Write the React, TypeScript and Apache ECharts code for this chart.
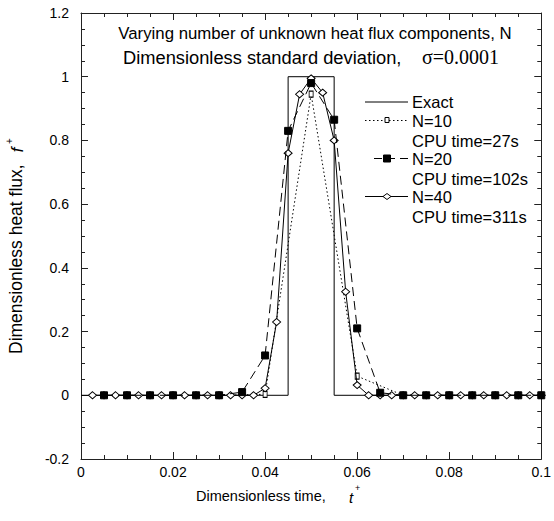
import React, { useEffect, useRef } from "react";
import * as echarts from "echarts";

// ---- data ----
const exactT = [0, 0.045, 0.045, 0.055, 0.055, 0.1];
const exactF = [0, 0, 1, 1, 0, 0];

const n10T = [0.01, 0.02, 0.03, 0.04, 0.05, 0.06, 0.07, 0.08, 0.09, 0.1];
const n10F = [0, 0, 0, 0.003, 0.945, 0.06, 0, 0, 0, 0];

const n20T = [
  0.005, 0.01, 0.015, 0.02, 0.025, 0.03, 0.035, 0.04, 0.045, 0.05,
  0.055, 0.06, 0.065, 0.07, 0.075, 0.08, 0.085, 0.09, 0.095, 0.1,
];
const n20F = [
  0, 0, 0, 0, 0, 0, 0.01, 0.125, 0.83, 0.98,
  0.865, 0.21, 0.008, 0, 0, 0, 0, 0, 0, 0,
];

const n40T = [
  0.0025, 0.005, 0.0075, 0.01, 0.0125, 0.015, 0.0175, 0.02, 0.0225, 0.025,
  0.0275, 0.03, 0.0325, 0.035, 0.0375, 0.04, 0.0425, 0.045, 0.0475, 0.05,
  0.0525, 0.055, 0.0575, 0.06, 0.0625, 0.065, 0.0675, 0.07, 0.0725, 0.075,
  0.0775, 0.08, 0.0825, 0.085, 0.0875, 0.09, 0.0925, 0.095, 0.0975, 0.1,
];
const n40F = [
  0, 0, 0, 0, 0, 0, 0, 0, 0, 0,
  0, 0, 0, 0, 0, 0.022, 0.23, 0.76, 0.945, 0.995,
  0.95, 0.8, 0.325, 0.032, 0, 0, 0, 0, 0, 0,
  0, 0, 0, 0, 0, 0, 0, 0, 0, 0,
];

const xTicks = [0, 0.02, 0.04, 0.06, 0.08, 0.1];
const yTicks = [-0.2, 0, 0.2, 0.4, 0.6, 0.8, 1, 1.2];

const titleLine1 = "Varying number of unknown heat flux components, N";
const titleLine2a = "Dimensionless standard deviation,";
const titleLine2b = "\u03c3=0.0001";
const legendNames = ["Exact", "N=10", "N=20", "N=40"];
const legendNotes = ["CPU time=27s", "CPU time=102s", "CPU time=311s"];

const SANS = "'Liberation Sans', Arial, Helvetica, sans-serif";
const SERIF = "'Liberation Serif', 'Times New Roman', serif";

const pairs = (xs: number[], ys: number[]) => xs.map((x, i) => [x, ys[i]]);

export default function App() {
  const ref = useRef<HTMLDivElement>(null);

  useEffect(() => {
    if (!ref.current) return;
    const chart = echarts.init(ref.current, undefined, { renderer: "svg" });

    const axisColor = "#222";
    const fmt = (v: number) => String(+v.toFixed(3));

    const baseX = {
      type: "value" as const,
      min: xTicks[0],
      max: xTicks[xTicks.length - 1],
      interval: 0.02,
      axisLine: { show: true, onZero: false, lineStyle: { color: axisColor, width: 1 } },
      axisTick: { show: true, inside: true, length: 7, lineStyle: { color: axisColor } },
      minorTick: { show: true, splitNumber: 4, length: 4, lineStyle: { color: axisColor } },
      splitLine: { show: false },
      minorSplitLine: { show: false },
    };
    const baseY = {
      type: "value" as const,
      min: yTicks[0],
      max: yTicks[yTicks.length - 1],
      interval: 0.2,
      axisLine: { show: true, onZero: false, lineStyle: { color: axisColor, width: 1 } },
      axisTick: { show: true, inside: true, length: 7, lineStyle: { color: axisColor } },
      minorTick: { show: true, splitNumber: 4, length: 4, lineStyle: { color: axisColor } },
      splitLine: { show: false },
      minorSplitLine: { show: false },
    };

    const lx1 = 365, lx2 = 408, lmid = 387;
    const ly = [102, 120.5, 158.5, 196.5];
    const noteY = [141, 179, 217];

    const legendGraphics: any[] = [
      { type: "line", shape: { x1: lx1, y1: ly[0], x2: lx2, y2: ly[0] }, style: { stroke: "#000", lineWidth: 1 } },
      { type: "line", shape: { x1: lx1, y1: ly[1], x2: lx2, y2: ly[1] }, style: { stroke: "#000", lineWidth: 1, lineDash: [1.5, 2.5] } },
      { type: "rect", shape: { x: lmid - 2, y: ly[1] - 3, width: 4, height: 5 }, style: { fill: "#fff", stroke: "#000", lineWidth: 1 } },
      { type: "line", shape: { x1: lx1 + 9, y1: ly[2], x2: lx2, y2: ly[2] }, style: { stroke: "#000", lineWidth: 1, lineDash: [8, 5] } },
      { type: "rect", shape: { x: lmid - 3.5, y: ly[2] - 3.5, width: 7, height: 7 }, style: { fill: "#000", stroke: "#000", lineWidth: 1 } },
      { type: "line", shape: { x1: lx1, y1: ly[3], x2: lx2, y2: ly[3] }, style: { stroke: "#000", lineWidth: 1 } },
      {
        type: "polygon",
        shape: { points: [[lmid - 4, ly[3]], [lmid, ly[3] - 3], [lmid + 4, ly[3]], [lmid, ly[3] + 3]] },
        style: { fill: "#fff", stroke: "#000", lineWidth: 1 },
      },
    ];
    const txt = (x: number, y: number, text: string, extra: any = {}, align = "left", rotation = 0) => ({
      type: "text", x, y, rotation,
      style: {
        text, fontSize: 16.5, fontFamily: SANS, fill: "#000",
        textAlign: align, align, textVerticalAlign: "middle", verticalAlign: "middle",
        ...extra,
      },
    });
    legendNames.forEach((n, i) => legendGraphics.push(txt(412, ly[i], n)));
    legendNotes.forEach((n, i) => legendGraphics.push(txt(412, noteY[i], n)));

    const option: any = {
      animation: false,
      backgroundColor: "#fff",
      textStyle: { fontFamily: SANS },
      grid: { left: 81, right: 7, top: 13, bottom: 62, containLabel: false },
      xAxis: [
        {
          ...baseX,
          position: "bottom",
          axisLabel: { show: true, color: "#000", fontSize: 14, fontFamily: SANS, margin: 6, formatter: fmt },
        },
        { ...baseX, position: "top", axisLabel: { show: false } },
      ],
      yAxis: [
        {
          ...baseY,
          position: "left",
          axisLabel: { show: true, color: "#000", fontSize: 14, fontFamily: SANS, margin: 12, formatter: fmt },
        },
        { ...baseY, position: "right", axisLabel: { show: false } },
      ],
      series: [
        {
          name: "Exact", type: "line", data: pairs(exactT, exactF),
          symbol: "none", showSymbol: false,
          lineStyle: { color: "#000", width: 1 }, z: 2,
        },
        {
          name: "N=10", type: "line", data: pairs(n10T, n10F),
          symbol: "rect", symbolSize: [4, 6], showAllSymbol: true,
          itemStyle: { color: "#fff", borderColor: "#000", borderWidth: 1 },
          lineStyle: { color: "#000", width: 1, type: [1.5, 2.5] }, z: 3,
        },
        {
          name: "N=40", type: "line", data: pairs(n40T, n40F),
          symbol: "diamond", symbolSize: [8, 7], showAllSymbol: true,
          itemStyle: { color: "#fff", borderColor: "#000", borderWidth: 1 },
          lineStyle: { color: "#000", width: 1, type: "solid" }, z: 4,
        },
        {
          name: "N=20", type: "line", data: pairs(n20T, n20F),
          symbol: "rect", symbolSize: 7, showAllSymbol: true,
          itemStyle: { color: "#000", borderColor: "#000", borderWidth: 1 },
          lineStyle: { color: "#000", width: 1, type: [9, 5] }, z: 5,
        },
      ],
      graphic: [
        txt(315, 33, titleLine1, { fontSize: 16.8 }, "center"),
        txt(123, 57, titleLine2a, { fontSize: 18.3 }),
        txt(422, 57, titleLine2b, { fontFamily: SERIF, fontSize: 20 }),
        ...legendGraphics,
        // x axis title
        txt(196, 496, "Dimensionless time,", { fontSize: 14.5 }),
        txt(349, 497, "t", { fontSize: 15, fontStyle: "italic" }),
        txt(355, 488, "+", { fontSize: 9 }),
        // y axis title (reads bottom to top)
        txt(16, 354, "Dimensionless heat flux,", { fontSize: 17.5 }, "left", Math.PI / 2),
        txt(17, 150, "f", { fontSize: 17, fontStyle: "italic" }, "center", Math.PI / 2),
        txt(9, 141, "+", { fontSize: 10 }, "center", Math.PI / 2),
      ],
    };

    chart.setOption(option);
    return () => chart.dispose();
  }, []);

  return (
    <div
      ref={ref}
      style={{ position: "absolute", left: 0, top: 0, width: 554, height: 521, background: "#fff" }}
    />
  );
}
